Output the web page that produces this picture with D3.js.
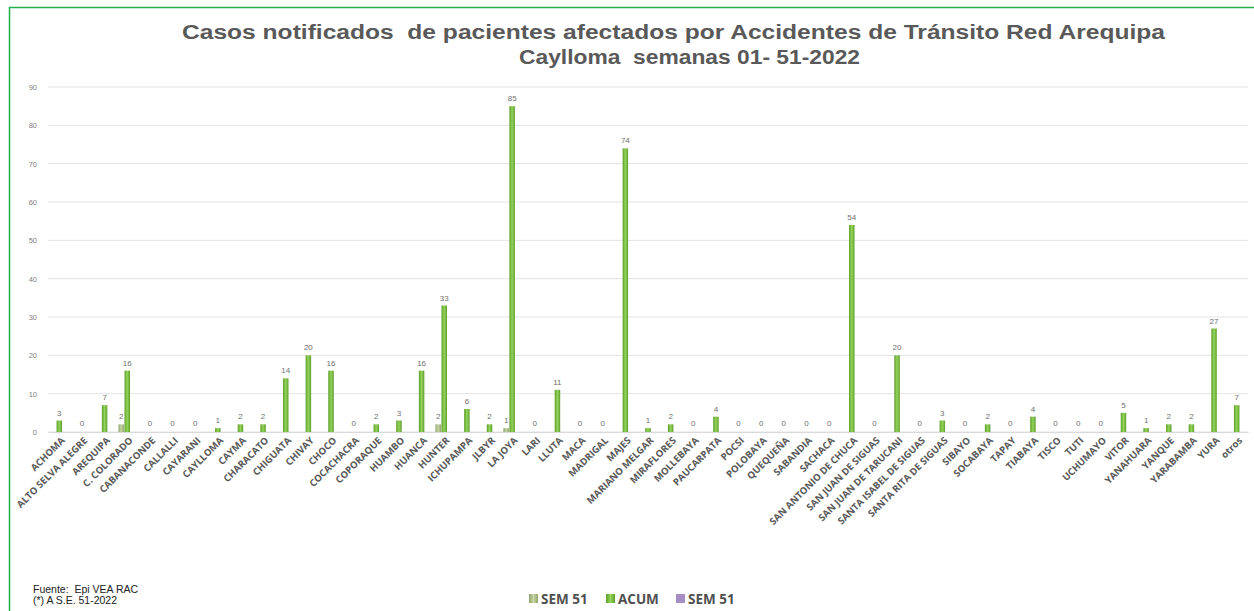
<!DOCTYPE html>
<html>
<head>
<meta charset="utf-8">
<script src="https://cdn.jsdelivr.net/npm/d3@7"></script>
<style>
  body { margin: 0; background: #fff; }
  text { font-family: "Liberation Sans", Arial, sans-serif; }
</style>
</head>
<body>
<div id="chart"></div>
<script>
const categories = ['ACHOMA', 'ALTO SELVA ALEGRE', 'AREQUIPA', 'C. COLORADO', 'CABANACONDE', 'CALLALLI',
  'CAYARANI', 'CAYLLOMA', 'CAYMA', 'CHARACATO', 'CHIGUATA', 'CHIVAY', 'CHOCO', 'COCACHACRA', 'COPORAQUE',
  'HUAMBO', 'HUANCA', 'HUNTER', 'ICHUPAMPA', 'JLBYR', 'LA JOYA', 'LARI', 'LLUTA', 'MACA', 'MADRIGAL', 'MAJES',
  'MARIANO MELGAR', 'MIRAFLORES', 'MOLLEBAYA', 'PAUCARPATA', 'POCSI', 'POLOBAYA', 'QUEQUEÑA', 'SABANDIA',
  'SACHACA', 'SAN ANTONIO DE CHUCA', 'SAN JUAN DE SIGUAS', 'SAN JUAN DE TARUCANI', 'SANTA ISABEL DE SIGUAS',
  'SANTA RITA DE SIGUAS', 'SIBAYO', 'SOCABAYA', 'TAPAY', 'TIABAYA', 'TISCO', 'TUTI', 'UCHUMAYO', 'VITOR',
  'YANAHUARA', 'YANQUE', 'YARABAMBA', 'YURA', 'otros'];

const sem51 = [0, 0, 0, 2, 0, 0, 0, 0, 0, 0, 0, 0, 0, 0, 0, 0, 0, 2, 0, 0, 1, 0, 0, 0, 0, 0,
  0, 0, 0, 0, 0, 0, 0, 0, 0, 0, 0, 0, 0, 0, 0, 0, 0, 0, 0, 0, 0, 0, 0, 0, 0, 0, 0];

const acum = [3, 0, 7, 16, 0, 0, 0, 1, 2, 2, 14, 20, 16, 0, 2, 3, 16, 33, 6, 2, 85, 0, 11, 0, 0, 74,
  1, 2, 0, 4, 0, 0, 0, 0, 0, 54, 0, 20, 0, 3, 0, 2, 0, 4, 0, 0, 0, 5, 1, 2, 2, 27, 7];

const sem51b = categories.map(() => 0);

const yTicks = [0, 10, 20, 30, 40, 50, 60, 70, 80, 90];

const seriesNames = ['SEM 51', 'ACUM', 'SEM 51'];
const seriesColors = ['#a9bd86', '#7cc243', '#a48fc4'];

const width = 1254;
const height = 611;
const margin = { top: 87, right: 6, bottom: 179, left: 48 };

const svg = d3.select('#chart')
  .append('svg')
  .attr('width', width)
  .attr('height', height);

// gradient fills for the bars
const defs = svg.append('defs');
const grad = defs.append('linearGradient').attr('id', 'gAcum').attr('x1', '0').attr('x2', '1');
grad.append('stop').attr('offset', '0').attr('stop-color', '#5e9e2c');
grad.append('stop').attr('offset', '0.5').attr('stop-color', '#93d45a');
grad.append('stop').attr('offset', '1').attr('stop-color', '#5e9e2c');
const grad2 = defs.append('linearGradient').attr('id', 'gSem').attr('x1', '0').attr('x2', '1');
grad2.append('stop').attr('offset', '0').attr('stop-color', '#8fa36a');
grad2.append('stop').attr('offset', '0.5').attr('stop-color', '#c9d6a8');
grad2.append('stop').attr('offset', '1').attr('stop-color', '#8fa36a');

// green frame (top + left)
svg.append('path')
  .attr('d', `M9.5,${height}V7.5H${width}`)
  .attr('fill', 'none')
  .attr('stroke', '#23b04b')
  .attr('stroke-width', 1.5);

// title (stretched to the width of the original)
svg.append('text')
  .attr('x', 182).attr('y', 39)
  .attr('font-size', 20).attr('font-weight', 'bold').attr('fill', '#595959')
  .attr('xml:space', 'preserve')
  .attr('textLength', 983).attr('lengthAdjust', 'spacingAndGlyphs')
  .text('Casos notificados  de pacientes afectados por Accidentes de Tránsito Red Arequipa');
svg.append('text')
  .attr('x', 519).attr('y', 64)
  .attr('font-size', 20).attr('font-weight', 'bold').attr('fill', '#595959')
  .attr('xml:space', 'preserve')
  .attr('textLength', 341).attr('lengthAdjust', 'spacingAndGlyphs')
  .text('Caylloma  semanas 01- 51-2022');

const x = d3.scaleBand()
  .domain(categories)
  .range([margin.left, width - margin.right]);

const y = d3.scaleLinear()
  .domain([0, 90])
  .range([height - margin.bottom, margin.top]);

// gridlines
svg.append('g')
  .selectAll('line')
  .data(yTicks)
  .join('line')
  .attr('x1', margin.left).attr('x2', width - margin.right)
  .attr('y1', d => y(d)).attr('y2', d => y(d))
  .attr('stroke', '#e3e3e3').attr('stroke-width', 1);

// y axis
const yAxis = svg.append('g')
  .attr('transform', `translate(${margin.left - 8},0)`)
  .call(d3.axisLeft(y).tickValues(yTicks).tickSize(0));
yAxis.select('.domain').remove();
yAxis.selectAll('text').attr('font-size', 7.5).attr('fill', '#808080')
  .style('font-family', '"Liberation Sans", Arial, sans-serif');

// x axis
const xAxis = svg.append('g')
  .attr('transform', `translate(0,${height - margin.bottom})`)
  .call(d3.axisBottom(x).tickSize(0));
xAxis.select('.domain').attr('stroke', '#d9d9d9');
xAxis.selectAll('text')
  .attr('font-size', 9.6).attr('font-weight', 'bold').attr('fill', '#595959')
  .style('font-family', '"Open Sans", sans-serif')
  .attr('text-anchor', 'end')
  .attr('dy', 0)
  .attr('transform', 'translate(4,7) rotate(-45)');

const bw = 5.5;
const offsets = [-6, 0, 6];

// SEM 51
svg.append('g').selectAll('rect')
  .data(sem51)
  .join('rect')
  .attr('x', (d, i) => x(categories[i]) + x.bandwidth() / 2 + offsets[0] - bw / 2)
  .attr('y', d => y(d))
  .attr('width', bw)
  .attr('height', d => y(0) - y(d))
  .attr('fill', 'url(#gSem)');

// ACUM
svg.append('g').selectAll('rect')
  .data(acum)
  .join('rect')
  .attr('x', (d, i) => x(categories[i]) + x.bandwidth() / 2 + offsets[1] - bw / 2)
  .attr('y', d => y(d))
  .attr('width', bw)
  .attr('height', d => y(0) - y(d))
  .attr('fill', 'url(#gAcum)');

// SEM 51 (second)
svg.append('g').selectAll('rect')
  .data(sem51b)
  .join('rect')
  .attr('x', (d, i) => x(categories[i]) + x.bandwidth() / 2 + offsets[2] - bw / 2)
  .attr('y', d => y(d))
  .attr('width', bw)
  .attr('height', d => y(0) - y(d))
  .attr('fill', seriesColors[2]);

// labels
svg.append('g').selectAll('text')
  .data(acum)
  .join('text')
  .attr('x', (d, i) => x(categories[i]) + x.bandwidth() / 2)
  .attr('y', d => y(d) - (d === 0 ? 6 : 5))
  .attr('text-anchor', 'middle')
  .attr('font-size', 8).attr('fill', '#6f6f6f')
  .text(d => d);

svg.append('g').selectAll('text')
  .data(sem51.map((v, i) => ({ v, i })).filter(d => d.v > 0))
  .join('text')
  .attr('x', d => x(categories[d.i]) + x.bandwidth() / 2 + offsets[0])
  .attr('y', d => y(d.v) - 5)
  .attr('text-anchor', 'middle')
  .attr('font-size', 8).attr('fill', '#6f6f6f')
  .text(d => d.v);

// legend
const legendX = [529, 606, 676];
const legend = svg.append('g');
seriesNames.forEach((name, i) => {
  legend.append('rect')
    .attr('x', legendX[i]).attr('y', 594)
    .attr('width', 9).attr('height', 9)
    .attr('fill', i === 0 ? 'url(#gSem)' : i === 1 ? 'url(#gAcum)' : seriesColors[2]);
  legend.append('text')
    .attr('x', legendX[i] + 12).attr('y', 604)
    .attr('font-size', 13.5).attr('font-weight', 'bold').attr('fill', '#505050')
    .style('font-family', '"Open Sans", sans-serif')
    .text(name);
});

// footnote
svg.append('text')
  .attr('x', 33).attr('y', 593)
  .attr('font-size', 10.5).attr('fill', '#222')
  .attr('xml:space', 'preserve')
  .text('Fuente:  Epi VEA RAC');
svg.append('text')
  .attr('x', 33).attr('y', 604)
  .attr('font-size', 10.5).attr('fill', '#222')
  .text('(*) A S.E. 51-2022');
</script>
</body>
</html>
